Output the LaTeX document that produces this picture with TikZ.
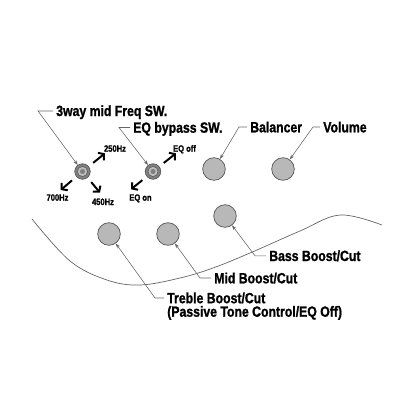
\documentclass[tikz,border=0pt]{standalone}
\usepackage{fontspec}
\setmainfont{Liberation Sans}[FakeStretch=0.83, BoldFeatures={FakeBold=1.2}]
\usetikzlibrary{arrows.meta,positioning}

\begin{document}
\begin{tikzpicture}[
    x=0.025cm, y=-0.025cm,
    label/.style={font=\bfseries\fontsize{10.5}{9.6}\selectfont, inner sep=0pt, anchor=base west, align=left},
    small/.style={font=\bfseries\fontsize{6.5}{7}\selectfont, inner sep=0pt, anchor=base},
    knob/.style={circle, draw=black!65, fill=black!28, line width=0.5pt, minimum size=0.565cm, inner sep=0pt},
    switch/.style={circle, draw=black!70, fill=black!50, line width=0.4pt, minimum size=0.39cm, inner sep=0pt},
    leader/.style={-{Stealth[length=3.5pt,width=2.4pt]}, draw=black!60, line width=0.4pt},
    dirarrow/.style={-{Straight Barb[length=2.8pt,width=6.8pt]}, line width=1.4pt, shorten <=4pt}
]

% Frame
\fill[white] (0,0) rectangle (416,416);
\useasboundingbox (0,0) rectangle (416,416);

% Body edge
\draw[black!60, line width=0.5pt] plot[smooth, tension=0.6] coordinates {(32,219) (70,261) (107,280) (140,285) (180,278) (213,268) (250,253) (300,231) (340,215) (382,225)};

% Knobs
\node[knob] (balancer) at (214,169) {};
\node[knob] (volume) at (283,169) {};
\node[knob] (treble) at (109,234) {};
\node[knob] (mid) at (168,234) {};
\node[knob] (bass) at (225,216) {};

% Switches
\node[switch] (freqsw) at (82.5,171.5) {};
\node[switch] (eqsw) at (153,171.5) {};
\foreach \s in {freqsw, eqsw} {
    \draw[draw=black!65, fill=black!25, line width=0.4pt] (\s) circle (3.6pt);
    \fill[black!50] (\s) circle (1.8pt);
}

% Labels
\node[label] (labfreq) at (56,116) {3way mid Freq SW.};
\node[label] (labeq) at (133,132.7) {EQ bypass SW.};
\node[label] (labbal) at (250,132.3) {Balancer};
\node[label] (labvol) at (323,132.3) {Volume};
\node[label] (labbass) at (269,261) {Bass Boost/Cut};
\node[label] (labmid) at (214,283.3) {Mid Boost/Cut};
\node[label] (labtreble) at (167,316.7) {Treble Boost/Cut\\(Passive Tone Control/EQ Off)};

\node[small] (f250) at (115,151.7) {250Hz};
\node[small] (f700) at (57.5,200.7) {700Hz};
\node[small] (f450) at (103,205) {450Hz};
\node[small] (eqoff) at (184.5,151.7) {EQ off};
\node[small] (eqon) at (140.5,200.7) {EQ on};

% Bends of the leaders
\coordinate (bfreq) at (38,111);
\coordinate (beq) at (119,127.5);
\coordinate (bbal) at (239,127);
\coordinate (bvol) at (313,127);
\coordinate (bbass) at (255,255.8);
\coordinate (bmid) at (200,278);
\coordinate (btreble) at (155,298);

% Leaders
\draw[leader] ([xshift=-2pt]labfreq.west |- bfreq) -- (bfreq) -- (freqsw);
\draw[leader] ([xshift=-2pt]labeq.west |- beq) -- (beq) -- (eqsw);
\draw[leader] ([xshift=-2pt]labbal.west |- bbal) -- (bbal) -- (balancer);
\draw[leader] ([xshift=-2pt]labvol.west |- bvol) -- (bvol) -- (volume);
\draw[leader] ([xshift=-2pt]labbass.west |- bbass) -- (bbass) -- (bass);
\draw[leader] ([xshift=-2pt]labmid.west |- bmid) -- (bmid) -- (mid);
\draw[leader] ([xshift=-2pt]labtreble.west |- btreble) -- (btreble) -- (treble);

% Switch positions
\coordinate (t250) at (105,153.3);
\coordinate (t700) at (60.7,190);
\coordinate (t450) at (100,192.7);
\coordinate (toff) at (176,153.3);
\coordinate (ton) at (131,189.3);
\draw[dirarrow] (freqsw) -- (t250);
\draw[dirarrow] (freqsw) -- (t700);
\draw[dirarrow] (freqsw) -- (t450);
\draw[dirarrow] (eqsw) -- (toff);
\draw[dirarrow] (eqsw) -- (ton);

\end{tikzpicture}
\end{document}
